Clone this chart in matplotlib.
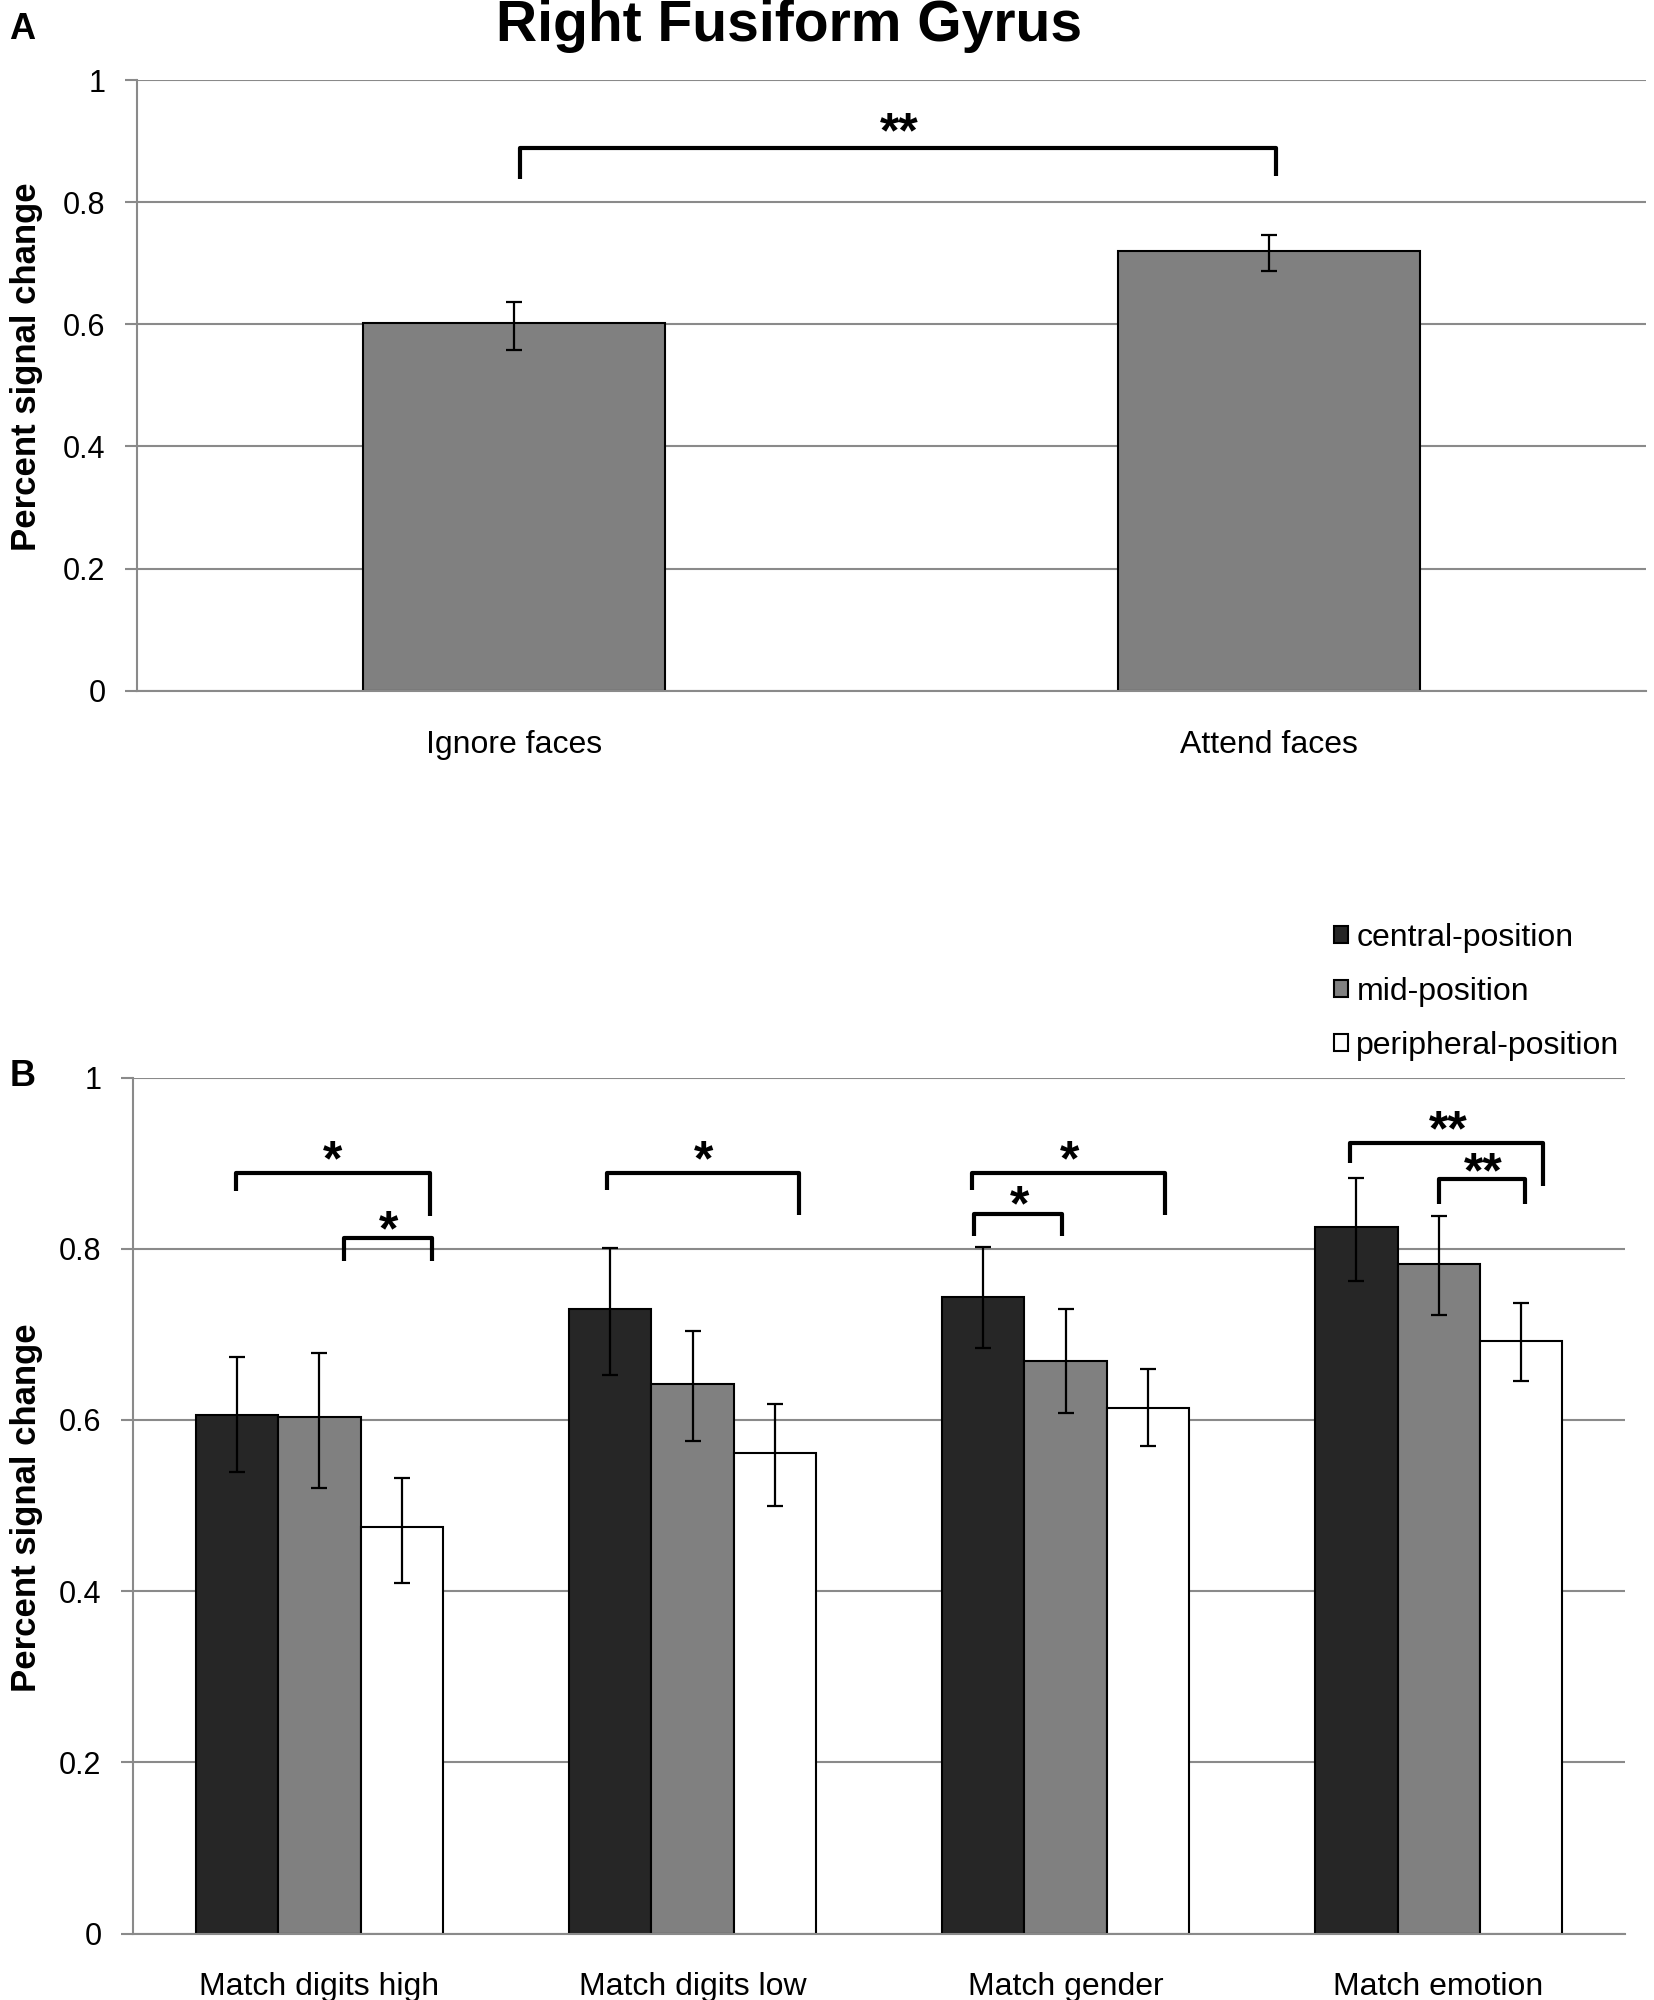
import numpy as np
import matplotlib
matplotlib.use("Agg")
from matplotlib import pyplot as plt
from matplotlib.patches import Patch

plt.rcParams['font.family'] = ['Liberation Sans', 'DejaVu Sans']

# panel A
conditions = ['Ignore faces', 'Attend faces']
attn_mean = [0.602, 0.720]
attn_lo = [0.558, 0.688]
attn_hi = [0.637, 0.747]

# panel B
tasks = ['Match digits high', 'Match digits low', 'Match gender', 'Match emotion']
series_names = ['central-position', 'mid-position', 'peripheral-position']
central = [0.606, 0.729, 0.743, 0.825]
central_lo = [0.539, 0.653, 0.684, 0.762]
central_hi = [0.673, 0.801, 0.802, 0.883]
mid = [0.603, 0.642, 0.669, 0.782]
mid_lo = [0.521, 0.575, 0.608, 0.723]
mid_hi = [0.678, 0.704, 0.729, 0.838]
periph = [0.475, 0.561, 0.614, 0.692]
periph_lo = [0.410, 0.499, 0.569, 0.645]
periph_hi = [0.532, 0.619, 0.659, 0.737]

# significance brackets: (x0, x1, y, y_end0, y_end1, label, star_x, star_y)
brackets_a = [(0.008, 1.010, 0.888, 0.838, 0.843, '**', 0.51, 0.926)]
# (group, dx0, dx1, y, y_end0, y_end1, label, star_dx, star_y)
brackets_b = [
    (0, -0.223, 0.296, 0.889, 0.867, 0.838, '*', 0.036, 0.912),
    (0, 0.066, 0.302, 0.813, 0.786, 0.786, '*', 0.184, 0.830),
    (1, -0.230, 0.286, 0.889, 0.868, 0.839, '*', 0.031, 0.912),
    (2, -0.252, 0.267, 0.889, 0.868, 0.839, '*', 0.010, 0.912),
    (2, -0.245, -0.010, 0.841, 0.815, 0.815, '*', -0.124, 0.859),
    (3, -0.237, 0.279, 0.923, 0.900, 0.873, '**', 0.026, 0.947),
    (3, 0.000, 0.232, 0.881, 0.852, 0.852, '**', 0.120, 0.898),
]

GRID = '#8a8a8a'
STAR_FS = 36


def style_axes(ax, n):
    ax.set_xlim(-0.5, n - 0.5)
    ax.set_ylim(0, 1)
    ax.set_yticks([0, 0.2, 0.4, 0.6, 0.8, 1.0])
    ax.set_yticklabels(['0', '0.2', '0.4', '0.6', '0.8', '1'])
    ax.yaxis.grid(True, color=GRID, lw=1.5)
    ax.set_axisbelow(True)
    for s in ['top', 'right']:
        ax.spines[s].set_visible(False)
    for s in ['left', 'bottom']:
        ax.spines[s].set_color(GRID)
        ax.spines[s].set_linewidth(1.5)
    ax.tick_params(axis='y', length=8.6, width=1.5, color=GRID, pad=14, labelsize=22)
    ax.tick_params(axis='x', length=0, pad=28, labelsize=23)


def draw_bracket(ax, x0, x1, y, e0, e1, label, sx, sy):
    ax.plot([x0, x0, x1, x1], [e0, y, y, e1], color='black', lw=3,
            solid_joinstyle='round', solid_capstyle='butt', clip_on=False)
    ax.annotate(label, xy=(sx, sy), xytext=(0, -0.45 * STAR_FS),
                textcoords='offset points', ha='center', va='baseline',
                fontsize=STAR_FS, fontweight='bold')


fig = plt.figure(figsize=(16.54, 20), dpi=100)

# ---- A ----
ax1 = fig.add_axes([0.0828, 0.6546, 0.9124, 0.3054])
xa = np.arange(len(conditions))
yerr_a = [np.array(attn_mean) - np.array(attn_lo), np.array(attn_hi) - np.array(attn_mean)]
ax1.bar(xa, attn_mean, 0.40, color='#808080', edgecolor='black', linewidth=1.5,
        yerr=yerr_a, error_kw=dict(ecolor='black', elinewidth=1.6, capsize=5.5, capthick=1.6))
style_axes(ax1, len(conditions))
ax1.set_xticks(xa)
ax1.set_xticklabels(conditions)
ax1.set_ylabel('Percent signal change', fontsize=25, fontweight='bold')
ax1.yaxis.set_label_coords(-0.0625, 0.531)
for b in brackets_a:
    draw_bracket(ax1, *b)

# ---- B ----
ax2 = fig.add_axes([0.0804, 0.03325, 0.9021, 0.428])
xb = np.arange(len(tasks))
w = 0.22
groups = [(central, central_lo, central_hi, '#262626'),
          (mid, mid_lo, mid_hi, '#808080'),
          (periph, periph_lo, periph_hi, 'white')]
for k, (vals, lo, hi, col) in enumerate(groups):
    v = np.array(vals)
    yerr = [v - np.array(lo), np.array(hi) - v]
    ax2.bar(xb + (k - 1) * w, v, w, color=col, edgecolor='black', linewidth=1.5,
            yerr=yerr, error_kw=dict(ecolor='black', elinewidth=1.6, capsize=5.5, capthick=1.6),
            label=series_names[k])
style_axes(ax2, len(tasks))
ax2.set_xticks(xb)
ax2.set_xticklabels(tasks)
ax2.set_ylabel('Percent signal change', fontsize=25, fontweight='bold')
ax2.yaxis.set_label_coords(-0.0605, 0.497)
for g, dx0, dx1, y, e0, e1, lab, sdx, sy in brackets_b:
    draw_bracket(ax2, g + dx0, g + dx1, y, e0, e1, lab, g + sdx, sy)

handles = [Patch(facecolor=c, edgecolor='black', linewidth=1.5) for c in ['#262626', '#808080', 'white']]
fig.legend(handles, series_names, loc='upper left', bbox_to_anchor=(1334 / 1654, 1 - 923 / 2000),
           frameon=False, fontsize=23, handlelength=0.45, handleheight=0.45,
           handletextpad=0.25, labelspacing=0.75, borderpad=0, borderaxespad=0)

fig.text(789 / 1654, 1 - 41 / 2000, 'Right Fusiform Gyrus', ha='center', va='baseline',
         fontsize=41, fontweight='bold')
fig.text(9 / 1654, 1 - 39 / 2000, 'A', ha='left', va='baseline', fontsize=26, fontweight='bold')
fig.text(10 / 1654, 1 - 1086 / 2000, 'B', ha='left', va='baseline', fontsize=26, fontweight='bold')

fig.savefig('out.png', dpi=100)
